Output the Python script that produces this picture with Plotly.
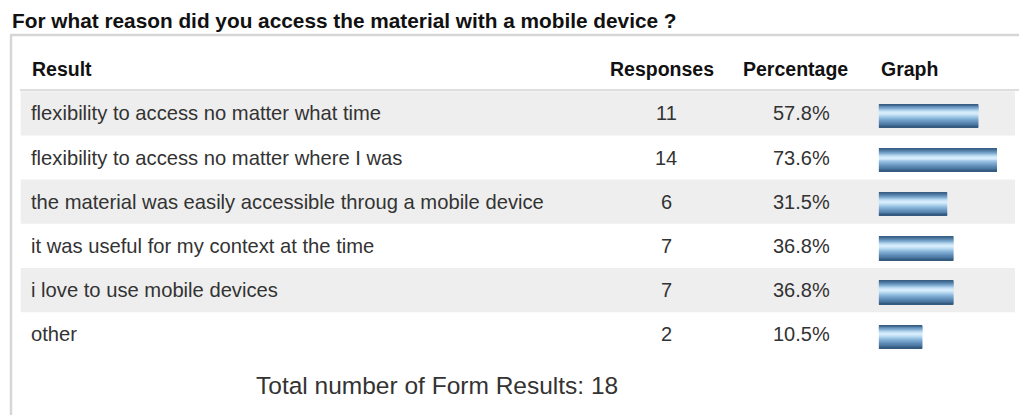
import plotly.graph_objects as go

# ---- survey data ----
question = "For what reason did you access the material with a mobile device ?"
results = [
    "flexibility to access no matter what time",
    "flexibility to access no matter where I was",
    "the material was easily accessible throug a mobile device",
    "it was useful for my context at the time",
    "i love to use mobile devices",
    "other",
]
responses = [11, 14, 6, 7, 7, 2]
percentages = [57.8, 73.6, 31.5, 36.8, 36.8, 10.5]
total_results = 18
headers = ["Result", "Responses", "Percentage", "Graph"]

# ---- page geometry (pixels) ----
W, H = 1019, 415
ROW0_PX, ROW_PITCH = 113.3, 44.2          # centre of first row, row height
BAR_LEFT_PX, PX_PER_PCT, BAR_BASE = 878.7, 1.184, -26.3
BAR_H_PX, BAR_SHIFT_PX = 23.5, 2.5

FONT = "Arial, Liberation Sans, sans-serif"


def px_x(p):
    return p / W


def px_y(p):
    return 1 - p / H


def row_of(py):
    return (py - ROW0_PX) / ROW_PITCH


rows = list(range(len(results)))

# every bar starts at a common stub (BAR_BASE) and ends at its percentage
bar_len = [p - BAR_BASE for p in percentages]

# cylinder-like shading of the bars: (position from top, colour)
shade_stops = [(0.00, "#33587b"), (0.10, "#4d78a0"), (0.22, "#7eaad0"),
               (0.33, "#c0def4"), (0.42, "#dcf0fd"), (0.52, "#b9daf2"),
               (0.64, "#8ab6db"), (0.78, "#6592bc"), (0.90, "#4a77a0"),
               (1.00, "#2f5478")]


def shade_at(t):
    for (t0, c0), (t1, c1) in zip(shade_stops, shade_stops[1:]):
        if t <= t1:
            f = (t - t0) / (t1 - t0) if t1 > t0 else 0
            a = [int(c0[i:i + 2], 16) for i in (1, 3, 5)]
            b = [int(c1[i:i + 2], 16) for i in (1, 3, 5)]
            return "rgb({},{},{})".format(*[round(x + (y - x) * f) for x, y in zip(a, b)])
    return shade_stops[-1][1]


N_SLICES = 24
fig = go.Figure()

bar_h = BAR_H_PX / ROW_PITCH
step = bar_h / N_SLICES
top = -bar_h / 2 + BAR_SHIFT_PX / ROW_PITCH
for k in range(N_SLICES):
    last = k == N_SLICES - 1
    fig.add_trace(go.Bar(
        x=bar_len, y=rows, orientation="h", base=BAR_BASE,
        width=step if last else step * 1.5,
        offset=top + k * step,
        marker=dict(color=shade_at((k + 0.5) / N_SLICES), line=dict(width=0)),
        hoverinfo="skip", showlegend=False,
    ))

shapes = []
# panel frame
shapes.append(dict(type="line", xref="paper", yref="paper",
                   x0=px_x(10), x1=1, y0=px_y(35), y1=px_y(35),
                   line=dict(color="#d6d6d6", width=2.5)))
shapes.append(dict(type="line", xref="paper", yref="paper",
                   x0=px_x(11), x1=px_x(11), y0=px_y(35), y1=0,
                   line=dict(color="#d6d6d6", width=2.5)))
# header underline
shapes.append(dict(type="line", xref="paper", yref="paper",
                   x0=px_x(20), x1=1, y0=px_y(90), y1=px_y(90),
                   line=dict(color="#dedede", width=2)))
# striped rows
for r in rows:
    if r % 2 == 0:
        shapes.append(dict(type="rect", xref="paper", yref="y",
                           x0=px_x(20.7), x1=px_x(1015),
                           y0=r - 0.5, y1=r + 0.5,
                           fillcolor="#eeeeee", line=dict(width=0),
                           layer="below"))

ann = []
ann.append(dict(text=question, xref="paper", yref="paper",
                x=px_x(10), y=px_y(20), xanchor="left", yanchor="middle",
                showarrow=False, font=dict(family=FONT, size=20.8, color="#111111",
                                           weight="bold")))
head_x = [(30, "left"), (661.5, "center"), (795, "center"), (879, "left")]
for h, (hx, anc) in zip(headers, head_x):
    ann.append(dict(text=h, xref="paper", yref="paper", x=px_x(hx), y=px_y(69),
                    xanchor=anc, yanchor="middle", showarrow=False,
                    font=dict(family=FONT, size=19.5, color="#111111",
                              weight="bold")))
for r, label, n, p in zip(rows, results, responses, percentages):
    ann.append(dict(text=label, xref="paper", yref="y", x=px_x(29), y=r,
                    xanchor="left", yanchor="middle", showarrow=False,
                    font=dict(family=FONT, size=20.2, color="#333333")))
    ann.append(dict(text=str(n), xref="paper", yref="y", x=px_x(666), y=r,
                    xanchor="center", yanchor="middle", showarrow=False,
                    font=dict(family=FONT, size=20, color="#333333")))
    ann.append(dict(text=f"{p}%", xref="paper", yref="y", x=px_x(801), y=r,
                    xanchor="center", yanchor="middle", showarrow=False,
                    font=dict(family=FONT, size=20, color="#333333")))
ann.append(dict(text=f"Total number of Form Results: {total_results}",
                xref="paper", yref="paper", x=px_x(437), y=px_y(385),
                xanchor="center", yanchor="middle", showarrow=False,
                font=dict(family=FONT, size=24.5, color="#333333")))

fig.update_layout(
    width=W, height=H,
    margin=dict(l=0, r=0, t=0, b=0),
    paper_bgcolor="white", plot_bgcolor="rgba(0,0,0,0)",
    barmode="overlay",
    xaxis=dict(domain=[px_x(BAR_LEFT_PX), 1],
               range=[BAR_BASE, BAR_BASE + (W - BAR_LEFT_PX) / PX_PER_PCT],
               visible=False, fixedrange=True),
    yaxis=dict(domain=[0, 1], range=[row_of(H), row_of(0)],
               visible=False, fixedrange=True),
    shapes=shapes, annotations=ann,
    showlegend=False,
)

fig.write_html("out.html", config={"displayModeBar": False})
